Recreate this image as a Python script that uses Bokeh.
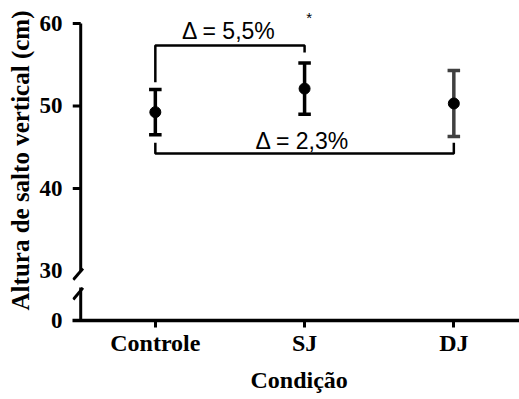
from bokeh.plotting import figure
from bokeh.models import Range1d, FixedTicker, Title
from bokeh.core.properties import value
from bokeh.embed import file_html
from bokeh.resources import INLINE

# ---- data ----
categories = ["Controle", "SJ", "DJ"]
means = [49.25, 52.1, 50.3]
errors = [2.75, 3.1, 4.0]
point_colors = ["#000000", "#000000", "#000000"]
bar_colors = ["#000000", "#000000", "#404040"]

y_tick_values = [0, 30, 40, 50, 60]
zero_display = 24          # where 0 sits on the broken axis
break_low = 28.0           # top of the short lower axis piece
break_high = 30.0          # bottom of the upper axis piece

# comparison brackets
bracket_from = [0, 0]
bracket_to = [1, 2]
bracket_level = [57.33, 44.25]
bracket_left_leg = [52.86, 45.53]
bracket_right_leg = [56.49, 45.53]
delta_labels = ["\u0394 = 5,5%", "\u0394 = 2,3%"]
delta_x = [0.494, 0.986]
delta_y = [59.05, 45.75]
star_x = [1.03]
star_y = [60.75]

x_title = "Condi\u00e7\u00e3o"
y_title = "Altura de salto vertical (cm)"

def disp(v):
    return v if v >= 30 else zero_display + v

xs = list(range(len(categories)))
tick_disp = [disp(v) for v in y_tick_values]

x0, x1 = -0.555, 2.44
axis_x = -0.5

p = figure(width=519, height=399, x_range=Range1d(x0, x1),
           y_range=Range1d(zero_display, 62.78),
           output_backend="svg", toolbar_location=None,
           min_border_left=72, min_border_right=0, min_border_top=0,
           min_border_bottom=78)
p.outline_line_color = None
p.grid.grid_line_color = None
p.background_fill_color = "white"
p.border_fill_color = "white"

# x axis
xa = p.xaxis[0]
xa.ticker = FixedTicker(ticks=xs)
xa.major_label_overrides = {i: c for i, c in enumerate(categories)}
xa.minor_tick_line_color = None
xa.axis_line_width = 3.5
xa.axis_line_color = "black"
xa.major_tick_line_width = 3
xa.major_tick_out = 7
xa.major_tick_in = 0
xa.major_label_standoff = 2
xa.major_label_text_font = "Liberation Serif"
xa.major_label_text_font_style = "bold"
xa.major_label_text_font_size = "24px"
xa.major_label_text_color = "black"

# y axis (labels only; the broken line is drawn below)
ya = p.yaxis[0]
ya.ticker = FixedTicker(ticks=tick_disp)
ya.major_label_overrides = {d: str(v) for d, v in zip(tick_disp, y_tick_values)}
ya.axis_line_color = None
ya.major_tick_line_color = None
ya.minor_tick_line_color = None
ya.major_label_standoff = 4
ya.major_label_text_font = "Liberation Serif"
ya.major_label_text_font_style = "bold"
ya.major_label_text_font_size = "23px"
ya.major_label_text_color = "black"
ya.axis_label = y_title
ya.axis_label_standoff = 3
ya.axis_label_text_font = "Liberation Serif"
ya.axis_label_text_font_style = "bold"
ya.axis_label_text_font_size = "25px"
ya.axis_label_text_color = "black"

# broken y axis line
p.segment(x0=[axis_x, axis_x], y0=[break_high, zero_display],
          x1=[axis_x, axis_x], y1=[60, break_low],
          line_color="black", line_width=3)
# tick marks above the break
p.segment(x0=[x0] * 3, y0=[40, 50, 60], x1=[axis_x] * 3, y1=[40, 50, 60],
          line_color="black", line_width=3)
# break slashes
p.segment(x0=[-0.55, -0.55], y0=[break_high - 1.05, zero_display + 2.55],
          x1=[-0.485, -0.485], y1=[break_high + 0.3, break_low - 0.05],
          line_color="black", line_width=3)

# error bars
p.segment(x0=xs, y0=[m - e for m, e in zip(means, errors)],
          x1=xs, y1=[m + e for m, e in zip(means, errors)],
          line_color=bar_colors, line_width=3.5)
cap = 0.042
for sign in (-1, 1):
    p.segment(x0=[x - cap for x in xs], y0=[m + sign * e for m, e in zip(means, errors)],
              x1=[x + cap for x in xs], y1=[m + sign * e for m, e in zip(means, errors)],
              line_color=bar_colors, line_width=3.5)
p.scatter(xs, means, size=11, color=point_colors)

# brackets
bx, by = [], []
for a, b, lv, ll, rl in zip(bracket_from, bracket_to, bracket_level,
                            bracket_left_leg, bracket_right_leg):
    bx.append([a, a, b, b])
    by.append([ll, lv, lv, rl])
p.multi_line(bx, by, line_color="black", line_width=2.5)

p.text(x=delta_x, y=delta_y, text=delta_labels, text_align="center",
       text_baseline="alphabetic", text_font=value("Liberation Sans"),
       text_font_size="23px", text_color="black")
p.text(x=star_x, y=star_y, text=["*"], text_align="center",
       text_baseline="alphabetic", text_font=value("Liberation Sans"),
       text_font_size="15px", text_color="black")

p.add_layout(Title(text=x_title, align="left", offset=178,
                   text_font="Liberation Serif", text_font_style="bold",
                   text_font_size="24px", text_color="black", standoff=13), "below")

open("out.html", "w").write(file_html(p, INLINE))
